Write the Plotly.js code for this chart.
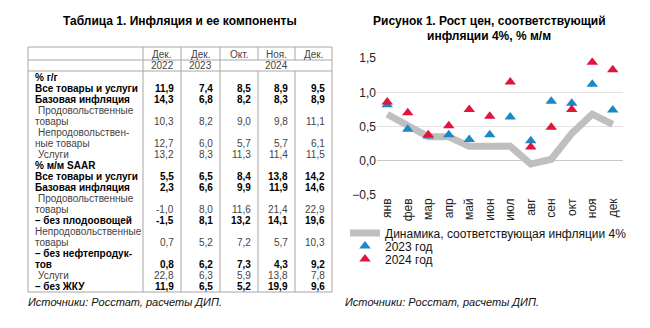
<!DOCTYPE html>
<html><head><meta charset="utf-8">
<script src="https://cdn.plot.ly/plotly-3.0.1.min.js"></script>
<style>html,body{margin:0;padding:0;background:#fff}#chart{width:650px;height:328px}</style>
</head><body><div id="chart"></div>
<script>
// ---- chart data ----
const months = ['янв','фев','мар','апр','май','июн','июл','авг','сен','окт','ноя','дек'];
const target4 = [0.68,0.52,0.35,0.35,0.21,0.21,0.21,-0.05,0.02,0.40,0.68,0.53];
const y2023 = [0.82,0.46,0.36,0.38,0.31,0.38,0.64,0.29,0.87,0.84,1.12,0.74];
const y2024 = [0.86,0.70,0.38,0.51,0.75,0.65,1.15,0.20,0.49,0.75,1.44,1.33];
const seriesNames = ['Динамика, соответствующая инфляции 4%','2023 год','2024 год'];

// ---- table data ----
const colHeads = ['Дек.','Дек.','Окт.','Ноя.','Дек.'];
const yearHeads = ['2022','2023','2024'];
const yearSpans = [[0,0],[1,1],[2,4]];
const rowNames = ['% г/г','Все товары и услуги','Базовая инфляция','Продовольственные|товары','Непродовольствен-|ные товары','Услуги',
  '% м/м SAAR','Все товары и услуги','Базовая инфляция','Продовольственные|товары','– без плодоовощей','Непродовольственные|товары',
  '– без нефтепродук-|тов','Услуги','– без ЖКУ'];
const rowBold   = [1,1,1,0,0,0,1,1,1,0,1,0,1,0,1];
const rowIndent = [0,0,0,1,1,1,0,0,0,1,0,0,0,1,0];
const dec2022 = [null,11.9,14.3,10.3,12.7,13.2,null,5.5,2.3,-1.0,-1.5,0.7,0.8,22.8,11.9];
const dec2023 = [null,7.4,6.8,8.2,6.0,8.3,null,6.5,6.6,8.0,8.1,5.2,6.2,6.3,6.5];
const oct2024 = [null,8.5,8.2,9.0,5.7,11.3,null,8.4,9.9,11.6,13.2,7.2,7.3,5.9,5.2];
const nov2024 = [null,8.9,8.3,9.8,5.7,11.4,null,13.8,11.9,21.4,14.1,5.7,4.3,13.8,19.9];
const dec2024 = [null,9.5,8.9,11.1,6.1,11.5,null,14.2,14.6,22.9,19.6,10.3,9.2,7.8,9.6];
const valueCols = [dec2022,dec2023,oct2024,nov2024,dec2024];

const tableTitle = 'Таблица 1. Инфляция и ее компоненты';
const chartTitle = ['Рисунок 1. Рост цен, соответствующий','инфляции 4%, % м/м'];
const sourceText = 'Источники: Росстат, расчеты ДИП.';

// ---- layout geometry (pixels) ----
const W = 650, H = 328;
const PX = x => x / W, PY = y => 1 - y / H;
const FONT = '"Liberation Sans", Arial, sans-serif';
const plotL = 377, plotR = 623, plotT = 58, plotB = 195;
const yr = [-0.5, 1.5];
const colB = [143,181,220,258,295,332];
const tblL = 28, hdrTop = 47, hdrMid = 60, hdrBot = 71, tblBot = 292;
const line0 = 77, pitch = 11.05;
const borderColor = '#a6a6a6';
const blue = '#1a88c2', red = '#e1153c', gray = '#bfbfbf';

const annotations = [];
const shapes = [];
function txt(text, x, y, o) {
  annotations.push(Object.assign({text, x: PX(x), y: PY(y), xref: 'paper', yref: 'paper',
    showarrow: false, xanchor: 'left', yanchor: 'middle', borderpad: 0,
    font: {family: FONT, size: 10, color: '#111'}}, o || {}));
}
function hline(x0, x1, y) { shapes.push({type: 'line', xref: 'paper', yref: 'paper', x0: PX(x0), x1: PX(x1), y0: PY(y), y1: PY(y), line: {color: borderColor, width: 1}}); }
function vline(x, y0, y1) { shapes.push({type: 'line', xref: 'paper', yref: 'paper', x0: PX(x), x1: PX(x), y0: PY(y0), y1: PY(y1), line: {color: borderColor, width: 1}}); }

// titles
txt('<b>' + tableTitle + '</b>', (tblL + colB[5]) / 2, 21, {xanchor: 'center', font: {family: FONT, size: 12, color: '#000'}});
txt('<b>' + chartTitle[0] + '</b>', 489, 21, {xanchor: 'center', font: {family: FONT, size: 12, color: '#000'}});
txt('<b>' + chartTitle[1] + '</b>', 489, 36, {xanchor: 'center', font: {family: FONT, size: 12, color: '#000'}});
txt('<i>' + sourceText + '</i>', 27, 302, {font: {family: FONT, size: 11, color: '#111'}});
txt('<i>' + sourceText + '</i>', 344, 302, {font: {family: FONT, size: 11, color: '#111'}});

// table frame
hline(tblL, colB[5], hdrTop); hline(tblL, colB[5], hdrMid); hline(tblL, colB[5], hdrBot); hline(tblL, colB[5], tblBot);
vline(tblL, hdrTop, tblBot);
colB.forEach((x, i) => {
  const inMerged = (i === 3 || i === 4);
  if (inMerged) { vline(x, hdrTop, hdrMid); vline(x, hdrBot, tblBot); }
  else vline(x, hdrTop, tblBot);
});
// headers
colHeads.forEach((h, i) => txt(h, (colB[i] + colB[i + 1]) / 2, (hdrTop + hdrMid) / 2 + 0.5, {xanchor: 'center', font: {family: FONT, size: 10, color: '#444'}}));
yearHeads.forEach((h, i) => txt(h, (colB[yearSpans[i][0]] + colB[yearSpans[i][1] + 1]) / 2, (hdrMid + hdrBot) / 2 + 0.5, {xanchor: 'center', font: {family: FONT, size: 10, color: '#444'}}));

// body
let li = 0;
rowNames.forEach((name, r) => {
  const parts = name.split('|');
  const bold = rowBold[r] === 1;
  const col = bold ? '#000' : '#444';
  parts.forEach((p, k) => {
    const x = 34 + (k === 0 && rowIndent[r] ? 3 : 0);
    txt(bold ? '<b>' + p + '</b>' : p, x, line0 + (li + k) * pitch, {font: {family: FONT, size: 10, color: col}});
  });
  const yv = line0 + (li + parts.length - 1) * pitch;
  valueCols.forEach((arr, c) => {
    const v = arr[r];
    if (v === null) return;
    const s = v.toFixed(1).replace('.', ',');
    txt(bold ? '<b>' + s + '</b>' : s, colB[c + 1] - 6, yv, {xanchor: 'right', font: {family: FONT, size: 10, color: col}});
  });
  li += parts.length;
});

// ---- chart ----
const yd = [1 - plotB / H, 1 - plotT / H];

const traces = [
  {x: months, y: target4, type: 'scatter', mode: 'lines', name: seriesNames[0], line: {color: gray, width: 7}, legend: 'legend', hoverinfo: 'skip'},
  {x: months, y: y2023, type: 'scatter', mode: 'markers', name: seriesNames[1], marker: {symbol: 'triangle-up', size: 10, color: blue}, legend: 'legend2'},
  {x: months, y: y2024, type: 'scatter', mode: 'markers', name: seriesNames[2], marker: {symbol: 'triangle-up', size: 10, color: red}, legend: 'legend3'}
];

const legBase = {xref: 'paper', yref: 'paper', xanchor: 'left', yanchor: 'middle', bgcolor: 'rgba(0,0,0,0)', borderwidth: 0,
  font: {family: FONT, size: 12, color: '#111'}, itemwidth: 30, tracegroupgap: 0};

const layout = {
  width: W, height: H, margin: {l: 0, r: 0, t: 0, b: 0},
  paper_bgcolor: '#fff', plot_bgcolor: '#fff',
  separators: ', ',
  font: {family: FONT, size: 12, color: '#222'},
  xaxis: {domain: [PX(plotL), PX(plotR)], type: 'category', categoryarray: months, range: [-0.5, 11.5],
    showgrid: false, zeroline: false, showline: false, ticks: '', tickangle: -90,
    tickfont: {family: FONT, size: 12, color: '#222'}},
  yaxis: {domain: yd, range: [yr[0] - 0.003, yr[1] + 0.003], dtick: 0.5, tick0: 0, tickformat: '.1f',
    showgrid: true, gridcolor: '#e3e3e3', gridwidth: 1, zeroline: true, zerolinecolor: '#c8c8c8', zerolinewidth: 1,
    showline: false, ticks: '', tickfont: {family: FONT, size: 12, color: '#222'}},
  showlegend: true,
  legend: Object.assign({}, legBase, {x: PX(345), y: PY(233)}),
  legend2: Object.assign({}, legBase, {x: PX(345), y: PY(246)}),
  legend3: Object.assign({}, legBase, {x: PX(345), y: PY(259)}),
  annotations, shapes
};

Plotly.newPlot('chart', traces, layout, {staticPlot: true, displayModeBar: false});
</script>
</body></html>
